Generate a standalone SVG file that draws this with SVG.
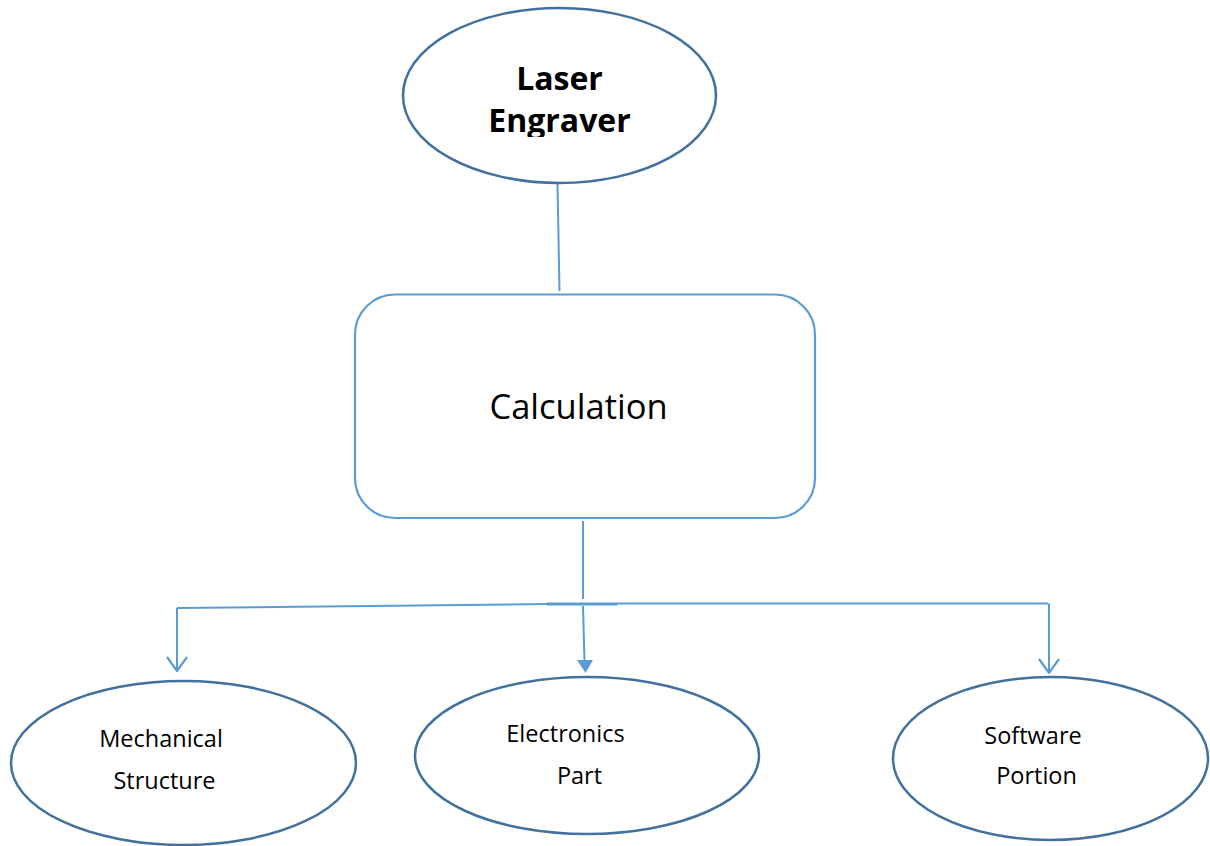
<svg xmlns="http://www.w3.org/2000/svg" width="1210" height="846" viewBox="0 0 1210 846">
<style>
.ell{fill:#fff;stroke:#41719C;stroke-width:2.5}
.box{fill:#fff;stroke:#5B9BD5;stroke-width:2.2}
.con{fill:none;stroke:#5B9BD5;stroke-width:2}
.lbl{font-family:"Open Sans","Liberation Sans",sans-serif;fill:#000;text-anchor:middle}
.big{font-size:34.5px}
.sm{font-size:23.5px}
.bold{font-size:32px;font-weight:bold}
</style>
<defs>
<marker id="open" viewBox="0 0 16 22" refX="15" refY="11" markerWidth="16" markerHeight="22" markerUnits="userSpaceOnUse" orient="auto">
<path d="M1,1 L15,11 L1,21" fill="none" stroke="#5B9BD5" stroke-width="2.2"/>
</marker>
<clipPath id="clipTop"><rect x="400" y="0" width="320" height="137"/></clipPath>
</defs>
<rect width="1210" height="846" fill="#fff"/>
<g id="connectors">
<line class="con" x1="557.5" y1="183" x2="559.5" y2="291"/>
<line class="con" x1="583" y1="521" x2="583" y2="599"/>
<polyline class="con" points="177,608 547,604"/>
<line x1="547" y1="604" x2="617" y2="604" stroke="#5B9BD5" stroke-width="3"/>
<polyline class="con" points="617,603.5 1048,603.5"/>
<line class="con" x1="177" y1="608" x2="177" y2="671" marker-end="url(#open)"/>
<line class="con" x1="1049" y1="603.5" x2="1049" y2="673" marker-end="url(#open)"/>
<line class="con" x1="583" y1="606" x2="584.5" y2="662"/>
<polygon points="577,660 593,660 585.5,673" fill="#5B9BD5"/>
</g>
<g id="laser-engraver">
<ellipse class="ell" cx="559.5" cy="95.5" rx="156.5" ry="87.5"/>
<g clip-path="url(#clipTop)">
<text class="lbl bold" x="559.5" y="90">Laser</text>
<text class="lbl bold" x="559.5" y="132">Engraver</text>
</g>
</g>
<g id="calculation">
<rect class="box" x="355" y="294.5" width="460" height="223.5" rx="40" ry="40"/>
<text class="lbl big" x="578.5" y="419">Calculation</text>
</g>
<g id="mechanical-structure">
<ellipse class="ell" cx="183.5" cy="763" rx="172.5" ry="82"/>
<text class="lbl sm" x="161" y="747">Mechanical</text>
<text class="lbl sm" x="164.5" y="789">Structure</text>
</g>
<g id="electronics-part">
<ellipse class="ell" cx="587" cy="755.5" rx="172" ry="78.5"/>
<text class="lbl sm" x="565.5" y="742">Electronics</text>
<text class="lbl sm" x="579.5" y="784">Part</text>
</g>
<g id="software-portion">
<ellipse class="ell" cx="1050.5" cy="758.5" rx="157.5" ry="81.5"/>
<text class="lbl sm" x="1033" y="744">Software</text>
<text class="lbl sm" x="1036.5" y="784">Portion</text>
</g>
</svg>
